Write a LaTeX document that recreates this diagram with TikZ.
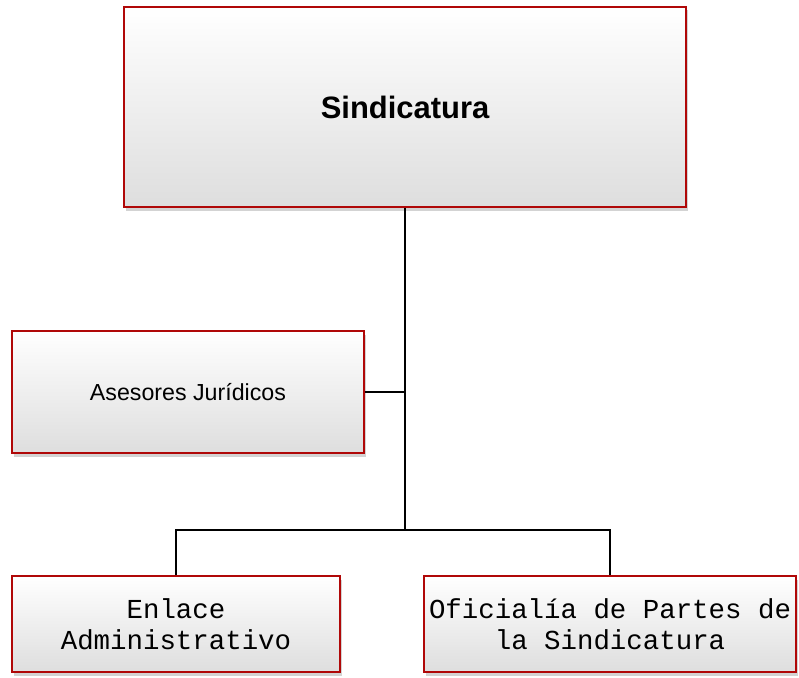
\documentclass[tikz,border=0pt]{standalone}
\usepackage{fontspec}
\setmainfont{Liberation Sans}
\setmonofont{Liberation Mono}
\usepackage{xcolor}
\usepackage{tikz}
\usetikzlibrary{shapes,arrows,positioning,fit,calc,shadows}

\definecolor{rojoBorde}{RGB}{176,8,8}

\begin{document}
\begin{tikzpicture}[x=0.025cm, y=-0.025cm,
    caja/.style={rectangle, draw=rojoBorde, line width=1.1pt,
        top color=white, middle color=white, bottom color=black!13,
        drop shadow={shadow xshift=1.5pt, shadow yshift=-2.5pt, opacity=0.35},
        align=center, inner sep=2pt},
    linea/.style={draw=black, line width=1.5pt}]
    \useasboundingbox (0,0) rectangle (799,677);

    \node (sind) [caja, minimum width=14.05cm, minimum height=5cm,
        font=\fontsize{22}{26}\selectfont\bfseries] at (405,107) {Sindicatura};
    \node (ases) [caja, minimum width=8.8cm, minimum height=3.05cm,
        font=\fontsize{16.5}{20}\selectfont] at (188,392) {Asesores Jurídicos};
    \node (enl) [caja, minimum width=8.2cm, minimum height=2.4cm,
        font=\fontsize{19.5}{22}\selectfont\ttfamily] at (176,624) {Enlace\\ Administrativo};
    \node (ofi) [caja, minimum width=9.3cm, minimum height=2.4cm,
        font=\fontsize{19.5}{22}\selectfont\ttfamily] at (610,624) {Oficialía de Partes de\\ la Sindicatura};

    \coordinate (bus) at (405,530);

    \draw [linea] (sind.south) -- (bus);
    \draw [linea] (ases.east) -- (ases.east -| sind.south);
    \draw [linea] (enl.north) |- (bus) -| (ofi.north);
\end{tikzpicture}
\end{document}
